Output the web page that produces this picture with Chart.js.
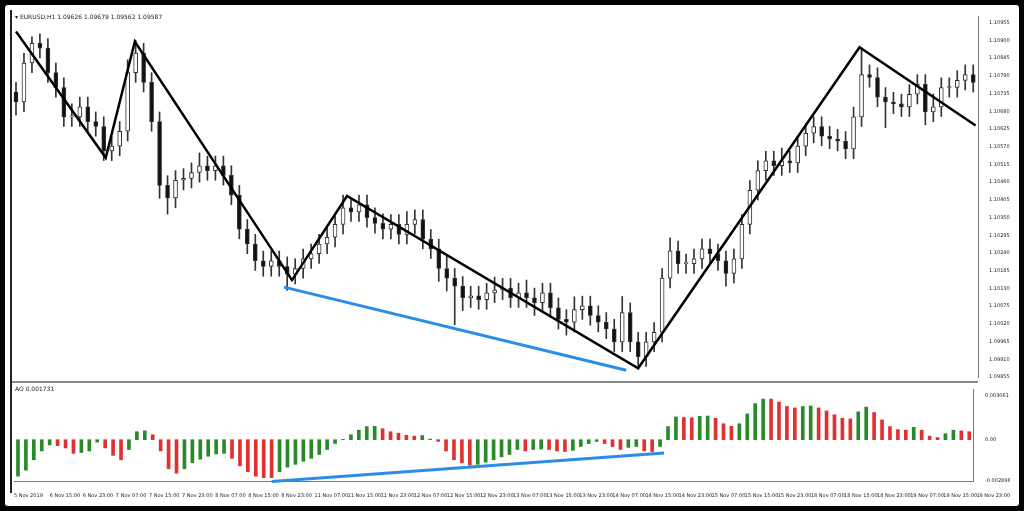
<!DOCTYPE html>
<html><head><meta charset="utf-8">
<script src="https://cdn.jsdelivr.net/npm/chart.js@4"></script>
<style>
html,body{margin:0;padding:0;background:#000;width:1024px;height:511px;overflow:hidden;font-family:"DejaVu Sans",sans-serif}
#frame{position:absolute;left:5px;top:5px;width:1014px;height:501px;background:#fff;border-radius:3px}
#top{position:absolute;left:10px;top:10px}
#bot{position:absolute;left:10px;top:383px}
.lbl{position:absolute;font-size:6px;color:#222;white-space:nowrap}
#lb{position:absolute;left:10px;top:10px;width:2px;height:483px;background:#222}
#sep{position:absolute;left:12px;top:381px;width:966px;height:2px;background:#888}
</style></head><body>
<div id="frame"></div>
<canvas id="top" width="1004" height="373"></canvas>
<canvas id="bot" width="1004" height="117"></canvas>
<div id="lb"></div>
<div id="sep"></div>
<div class="lbl" style="left:15px;top:13px">&#9662; EURUSD,H1  1.09626 1.09679 1.09562 1.09587</div>
<div class="lbl" style="left:15px;top:385px">AO 0.001731</div>
<script>
const closes=[1.10709,1.10830,1.10891,1.10876,1.10800,1.10754,1.10663,1.10663,1.10694,1.10648,1.10633,1.10557,1.10572,1.10618,1.10800,1.10861,1.10770,1.10648,1.10450,1.10411,1.10466,1.10472,1.10490,1.10511,1.10496,1.10511,1.10481,1.10420,1.10314,1.10268,1.10216,1.10198,1.10216,1.10198,1.10174,1.10192,1.10222,1.10238,1.10268,1.10289,1.10329,1.10380,1.10368,1.10390,1.10350,1.10332,1.10314,1.10329,1.10298,1.10329,1.10344,1.10283,1.10253,1.10192,1.10162,1.10137,1.10101,1.10107,1.10095,1.10116,1.10125,1.10131,1.10101,1.10116,1.10101,1.10086,1.10116,1.10070,1.10034,1.10025,1.10064,1.10076,1.10046,1.10025,1.10004,1.09964,1.10055,1.09964,1.09918,1.09964,1.09994,1.10162,1.10247,1.10207,1.10207,1.10222,1.10253,1.10238,1.10216,1.10177,1.10222,1.10329,1.10435,1.10496,1.10526,1.10511,1.10526,1.10520,1.10572,1.10612,1.10633,1.10603,1.10594,1.10587,1.10563,1.10663,1.10794,1.10785,1.10724,1.10709,1.10703,1.10694,1.10733,1.10764,1.10678,1.10694,1.10754,1.10754,1.10776,1.10794,1.10770];
const firstOpen=1.10740;
const upperWickPips=[3,3,2,3,3,3,3,4,3,3,3,3,3,3,4,4,3,3,3,3,3,3,3,4,3,3,3,3,3,3,3,3,3,3,3,3,3,3,3,3,3,4,3,3,3,3,3,3,3,4,3,3,3,3,4,3,3,3,3,3,4,3,3,3,4,3,3,3,3,3,4,3,3,3,3,3,5,3,3,3,3,3,4,3,3,3,3,3,3,3,3,3,3,3,3,3,4,3,3,3,3,3,3,3,3,3,8,3,3,3,3,3,3,3,3,4,3,3,3,3,3];
const lowerWickPips=[4,3,3,3,3,3,3,3,3,3,3,3,3,3,3,3,3,3,4,5,3,3,3,3,3,3,3,3,3,3,3,3,3,3,5,3,3,3,3,3,3,3,3,3,3,3,3,3,3,3,3,3,3,4,4,12,4,3,3,3,3,3,3,3,3,4,3,3,3,4,3,3,3,3,3,3,3,3,3,3,3,3,3,3,3,3,3,3,3,4,3,3,3,3,3,3,3,3,3,3,3,3,3,3,3,3,3,3,3,8,3,3,3,3,4,3,3,3,3,3,3];
const zigIdx=[0,11.25,14.9,34.6,41.5,78,105.75,120.3];
const zigPrice=[1.10928,1.10536,1.10897,1.10156,1.10417,1.09882,1.10879,1.10636];
const blueIdx=[33.6,76.5], bluePrice=[1.10134,1.09876];
const aoValues=[-0.00256,-0.00214,-0.00141,-0.00079,-0.00037,-0.00042,-0.00058,-0.00096,-0.0009,-0.00079,-0.00017,-0.00058,-0.0011,-0.00141,-0.00069,0.00056,0.00062,0.00035,-0.00079,-0.00204,-0.00235,-0.00204,-0.00162,-0.00137,-0.00116,-0.001,-0.00096,-0.00131,-0.00183,-0.00225,-0.00256,-0.00266,-0.00266,-0.00225,-0.00193,-0.00173,-0.00152,-0.00131,-0.00104,-0.00069,-0.00027,0.00002,0.00035,0.00067,0.00092,0.00094,0.00077,0.00056,0.00046,0.00031,0.00025,0.00029,0.00004,-0.00012,-0.00079,-0.00141,-0.00162,-0.00179,-0.00173,-0.00158,-0.00141,-0.0012,-0.00104,-0.00069,-0.00079,-0.00069,-0.00066,-0.00069,-0.00079,-0.00083,-0.00075,-0.00048,-0.00027,-0.00012,-0.00027,-0.00048,-0.00069,-0.00054,-0.00048,-0.00079,-0.00083,-0.00048,0.00092,0.0016,0.00156,0.00154,0.00164,0.00166,0.0015,0.00112,0.00094,0.00112,0.00181,0.00254,0.00285,0.00285,0.00264,0.00233,0.00223,0.00233,0.00237,0.00223,0.00202,0.00175,0.0015,0.00146,0.00196,0.00229,0.00191,0.00139,0.00092,0.00071,0.00067,0.00087,0.00067,0.00025,0.00015,0.00042,0.00067,0.00062,0.00056];
const aoBlueIdx=[32,81.5], aoBlueVal=[-0.00294,-0.00094];
const timeLabels=["6 Nov 15:00","6 Nov 23:00","7 Nov 07:00","7 Nov 15:00","7 Nov 23:00","8 Nov 07:00","8 Nov 15:00","8 Nov 23:00","11 Nov 07:00","11 Nov 15:00","11 Nov 23:00","12 Nov 07:00","12 Nov 15:00","12 Nov 23:00","13 Nov 07:00","13 Nov 15:00","13 Nov 23:00","14 Nov 07:00","14 Nov 15:00","14 Nov 23:00","15 Nov 07:00","15 Nov 15:00","15 Nov 23:00","18 Nov 07:00","18 Nov 15:00","18 Nov 23:00","19 Nov 07:00","19 Nov 15:00","19 Nov 23:00"];
const firstLabel="5 Nov 2019";
const priceTicks=[1.09855,1.09910,1.09965,1.10020,1.10075,1.10130,1.10185,1.10240,1.10295,1.10350,1.10405,1.10460,1.10515,1.10570,1.10625,1.10680,1.10735,1.10790,1.10845,1.10900,1.10955];
const aoTicks=[0.003061,0,-0.002896];
const aoTickLabels=["0.003061","0.00","-0.002896"];

const N=closes.length;
const opens=closes.map((c,i)=>i?closes[i-1]:firstOpen);
const bodies=closes.map((c,i)=>({x:i,y:[opens[i],c]}));
const wicks=closes.map((c,i)=>({x:i,y:[Math.min(opens[i],c)-lowerWickPips[i]*1e-4,Math.max(opens[i],c)+upperWickPips[i]*1e-4]}));
const up=closes.map((c,i)=>c>=opens[i]);
const XMIN=-0.5,XMAX=N-0.5+0.1;
Chart.defaults.animation=false;
Chart.defaults.font.family='"DejaVu Sans",sans-serif';
const xCommon={type:'linear',min:XMIN,max:XMAX,offset:false,grid:{display:false}};
new Chart(document.getElementById('top'),{
 data:{datasets:[
  {type:'bar',data:wicks,backgroundColor:'#333',barThickness:1,grouped:false,order:3},
  {type:'bar',data:bodies,backgroundColor:up.map(u=>u?'#fff':'#111'),borderColor:'#333',borderWidth:1,borderSkipped:false,barThickness:4,minBarLength:1,grouped:false,order:2},
  {type:'line',data:zigIdx.map((x,i)=>({x,y:zigPrice[i]})),borderColor:'#000',borderWidth:2.5,pointRadius:0,order:1},
  {type:'line',data:blueIdx.map((x,i)=>({x,y:bluePrice[i]})),borderColor:'#2b8de8',borderWidth:3,pointRadius:0,order:0}
 ]},
 options:{responsive:false,layout:{padding:{top:2,left:2,bottom:0,right:0}},
  plugins:{legend:{display:false},tooltip:{enabled:false}},
  scales:{x:{...xCommon,display:false},
   y:{position:'right',min:1.09855,max:1.10976,grid:{display:false},border:{display:true,color:'#777'},
    afterBuildTicks:s=>{s.ticks=priceTicks.map(v=>({value:v}))},
    afterFit:s=>{s.width=36},
    ticks:{font:{size:5},color:'#222',padding:3,callback:v=>v.toFixed(5)}}}}
});
new Chart(document.getElementById('bot'),{
 data:{datasets:[
  {type:'bar',data:aoValues.map((v,i)=>({x:i,y:v})),backgroundColor:aoValues.map((v,i)=>(i===0||v>aoValues[i-1])?'#2a8a2a':'#e03030'),barThickness:3,order:1},
  {type:'line',data:aoBlueIdx.map((x,i)=>({x,y:aoBlueVal[i]})),borderColor:'#2b8de8',borderWidth:3,pointRadius:0,clip:false,order:0}
 ]},
 options:{responsive:false,layout:{padding:{top:0,left:2,bottom:0,right:0}},
  plugins:{legend:{display:false},tooltip:{enabled:false}},
  scales:{x:{...xCommon,border:{display:true,color:'#777'},
    afterBuildTicks:s=>{s.ticks=[{value:XMIN}].concat(timeLabels.map((t,k)=>({value:4+4.175*k})))},
    afterFit:s=>{s.height=19},
    ticks:{font:{size:5},color:'#222',align:'start',maxRotation:0,autoSkip:false,padding:4,
     callback:(v,i)=>i===0?firstLabel:timeLabels[i-1]}},
   y:{position:'right',min:-0.0029,max:0.00356,grid:{display:false},border:{display:true,color:'#777'},
    afterBuildTicks:s=>{s.ticks=aoTicks.map(v=>({value:v}))},
    afterFit:s=>{s.width=36},
    ticks:{font:{size:5},color:'#222',padding:3,callback:(v,i)=>aoTickLabels[i]}}}}
});
</script></body></html>
